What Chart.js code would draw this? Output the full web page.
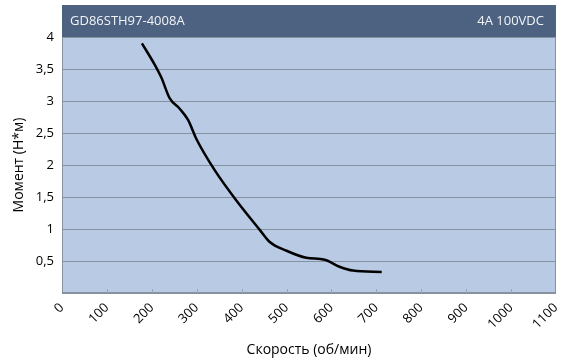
<!DOCTYPE html>
<html>
<head>
<meta charset="utf-8">
<script src="https://cdn.jsdelivr.net/npm/chart.js@4/dist/chart.umd.min.js"></script>
<style>
  html, body { margin: 0; padding: 0; background: #fff; }
  #wrap { width: 574px; height: 360px; }
</style>
</head>
<body>
<div id="wrap"><canvas id="myChart" width="574" height="360"></canvas></div>
<script>
const motorName = 'GD86STH97-4008A';
const motorSupply = '4A 100VDC';

// torque curve: speed (rpm) and torque (N*m)
const skorost = [178, 207, 221, 240, 262, 281, 299, 340, 390, 440, 462, 500, 544, 585, 618, 648, 712];
const moment = [3.90, 3.56, 3.37, 3.04, 2.88, 2.70, 2.41, 1.92, 1.43, 0.99, 0.80, 0.66, 0.55, 0.52, 0.41, 0.35, 0.33];

const fontName = '"Open Sans", "Liberation Sans", sans-serif';

var punti = [];
for (var i = 0; i < skorost.length; i++) {
  punti[i] = { x: skorost[i], y: moment[i] };
}

// header band above the plot + plot background
const fondo = {
  id: 'fondo',
  beforeDraw(chart) {
    const c = chart.ctx;
    const a = chart.chartArea;
    c.save();
    c.fillStyle = '#b9cae4';
    c.fillRect(a.left, a.top, a.right - a.left, a.bottom - a.top);
    c.fillStyle = '#4d6280';
    c.fillRect(a.left, 5, a.right - a.left, a.top - 5);
    c.fillStyle = '#f2f4f8';
    c.font = '13px ' + fontName;
    c.textBaseline = 'middle';
    c.textAlign = 'left';
    c.fillText(motorName, a.left + 8, 5 + (a.top - 5) / 2);
    c.textAlign = 'right';
    c.fillText(motorSupply, a.right - 12, 5 + (a.top - 5) / 2);
    c.restore();
  },
  afterDatasetsDraw(chart) {
    const c = chart.ctx;
    const a = chart.chartArea;
    const sx = chart.scales.x;
    c.save();
    c.strokeStyle = '#8791a0';
    c.lineWidth = 1;
    c.strokeRect(a.left + 0.5, a.top + 0.5, a.right - a.left - 1, a.bottom - a.top - 1);
    // small inward ticks on the speed axis
    c.strokeStyle = '#9aa4b3';
    for (var v = 100; v < 1100; v += 100) {
      const px = Math.round(sx.getPixelForValue(v)) + 0.5;
      c.beginPath();
      c.moveTo(px, a.bottom);
      c.lineTo(px, a.bottom - 4);
      c.stroke();
    }
    c.restore();
  }
};

var ctx = document.getElementById('myChart').getContext('2d');
var myChart = new Chart(ctx, {
  type: 'scatter',
  data: {
    datasets: [{
      data: punti,
      showLine: true,
      borderColor: '#000000',
      borderWidth: 2.5,
      pointRadius: 0,
      cubicInterpolationMode: 'monotone'
    }]
  },
  options: {
    responsive: false,
    animation: false,
    layout: { padding: { left: 0, right: 16, top: 37, bottom: 0 } },
    plugins: {
      legend: { display: false },
      tooltip: { enabled: false }
    },
    scales: {
      x: {
        type: 'linear',
        min: 0,
        max: 1100,
        afterFit(scale) { scale.height = 67; },
        ticks: {
          stepSize: 100,
          minRotation: 45,
          maxRotation: 45,
          padding: 7,
          color: '#000',
          font: { family: fontName, size: 13 },
          callback: function (value) { return String(value); }
        },
        grid: { display: false, drawTicks: false },
        border: { display: true, color: '#8791a0' },
        title: {
          display: true,
          text: 'Скорость (об/мин)',
          color: '#000',
          padding: { top: 4, bottom: 2 },
          font: { family: fontName, size: 14 }
        }
      },
      y: {
        min: 0,
        max: 4,
        afterFit(scale) { scale.width = 62; },
        ticks: {
          stepSize: 0.5,
          padding: 8,
          color: '#000',
          font: { family: fontName, size: 13 },
          callback: function (value) {
            if (value === 0) return '';
            return value.toString().replace('.', ',');
          }
        },
        grid: { color: '#8791a0', drawTicks: false },
        border: { display: false },
        title: {
          display: true,
          text: 'Момент (Н*м)',
          color: '#000',
          padding: { top: 11, bottom: 4 },
          font: { family: fontName, size: 14 }
        }
      }
    }
  },
  plugins: [fondo]
});
</script>
</body>
</html>
